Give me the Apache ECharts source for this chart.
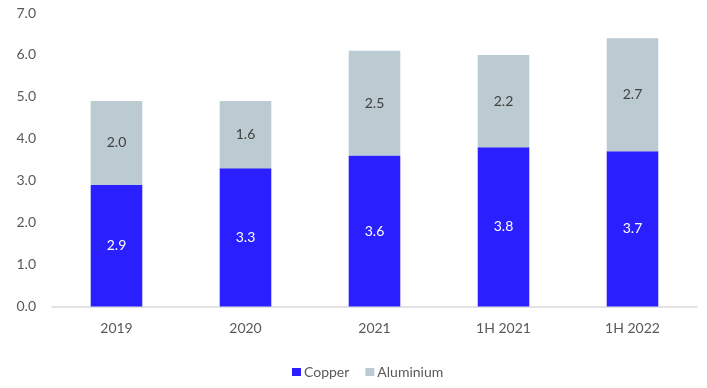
<!DOCTYPE html>
<html>
<head>
<meta charset="utf-8">
<script src="https://cdn.jsdelivr.net/npm/echarts@6/dist/echarts.min.js"></script>
<style>
  html, body { margin: 0; padding: 0; background: #ffffff; }
  #chart { width: 707px; height: 388px; }
</style>
</head>
<body>
<div id="chart"></div>
<script>
// Production volumes by period, stacked copper + aluminium
const categories = ['2019', '2020', '2021', '1H 2021', '1H 2022'];
const copper = [2.9, 3.3, 3.6, 3.8, 3.7];
const aluminium = [2.0, 1.6, 2.5, 2.2, 2.7];
const yTicks = { min: 0, max: 7, interval: 1 };

const FONT = 'Lato, "Open Sans", sans-serif';
const TEXT_GREY = '#595959';

const chart = echarts.init(document.getElementById('chart'));
chart.setOption({
  animation: false,
  textStyle: { fontFamily: FONT },
  grid: { left: 52, right: 10, top: 13, bottom: 81.5 },
  legend: {
    top: 365,
    left: 292,
    padding: 0,
    itemWidth: 9,
    itemHeight: 8,
    itemGap: 16,
    icon: 'rect',
    textStyle: { color: TEXT_GREY, fontSize: 14, fontFamily: FONT, padding: [0, 0, 0, -2] },
    data: ['Copper', 'Aluminium']
  },
  xAxis: {
    type: 'category',
    data: categories,
    axisLine: { lineStyle: { color: '#d9d9d9', width: 1.5 } },
    axisTick: { show: false },
    axisLabel: { color: TEXT_GREY, fontSize: 14, margin: 15, fontFamily: FONT }
  },
  yAxis: {
    type: 'value',
    min: yTicks.min,
    max: yTicks.max,
    interval: yTicks.interval,
    splitLine: { show: false },
    axisLine: { show: false },
    axisTick: { show: false },
    axisLabel: {
      color: TEXT_GREY, fontSize: 14, margin: 16, fontFamily: FONT,
      formatter: v => v.toFixed(1)
    }
  },
  series: [
    {
      name: 'Copper',
      type: 'bar',
      stack: 'total',
      barWidth: '40%',
      data: copper,
      itemStyle: { color: '#2a1fff' },
      label: {
        show: true, position: 'inside', color: '#ffffff', fontSize: 14, fontFamily: FONT,
        formatter: p => p.value.toFixed(1)
      }
    },
    {
      name: 'Aluminium',
      type: 'bar',
      stack: 'total',
      barWidth: '40%',
      data: aluminium,
      itemStyle: { color: '#bccbd2' },
      label: {
        show: true, position: 'inside', color: '#404040', fontSize: 14, fontFamily: FONT,
        formatter: p => p.value.toFixed(1)
      }
    }
  ]
});
</script>
</body>
</html>
